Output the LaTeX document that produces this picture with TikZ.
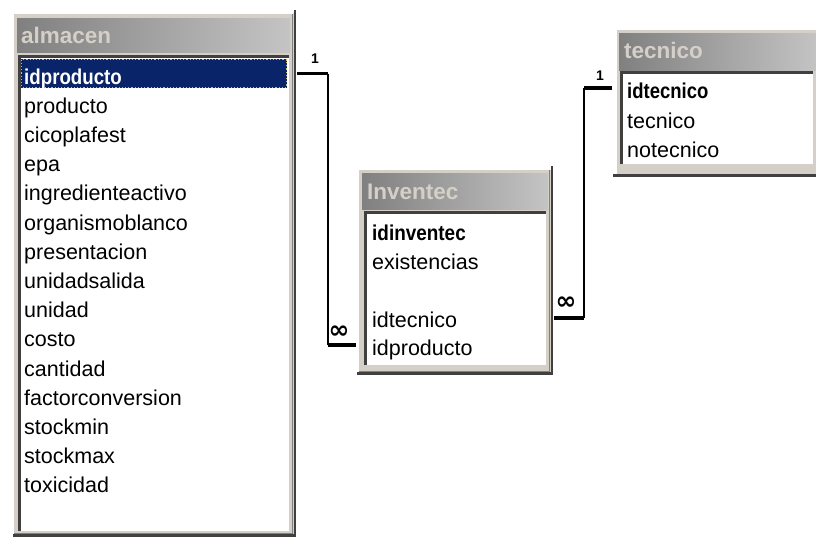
\documentclass[tikz,border=0pt]{standalone}
\usepackage{fontspec}
\setmainfont{Liberation Sans}
\newfontfamily\dvsans{DejaVu Sans}
\usepackage{graphicx}
\definecolor{winface}{HTML}{D4D0C8}
\definecolor{windark}{HTML}{404040}
\definecolor{winshadow}{HTML}{808080}
\definecolor{titleL}{HTML}{808080}
\definecolor{titleR}{HTML}{C4C4C4}
\definecolor{selnavy}{HTML}{0A246A}
\definecolor{focusdot}{HTML}{C8B870}
\tikzset{
  rowtext/.style={anchor=base west, inner sep=0pt, text=black, font=\fontsize{21.5}{24}\selectfont},
  keytext/.style={anchor=base west, inner sep=0pt, text=black, font=\fontsize{21.5}{24}\selectfont\bfseries},
  seltext/.style={anchor=base west, inner sep=0pt, text=white, font=\fontsize{21.5}{24}\selectfont\bfseries},
  titletext/.style={anchor=base west, inner sep=0pt, text=winface, font=\fontsize{22.5}{24}\selectfont\bfseries},
  winframe/.style={fill=winface},
  titlebar/.style={left color=titleL, right color=titleR, draw=none},
  listarea/.style={fill=white},
  darkedge/.style={draw=windark, line width=2.5pt},
  shadowedge/.style={draw=winshadow, line width=1pt},
  lightedge/.style={draw=white, line width=1.5pt},
  thickstub/.style={line width=3.5pt, black},
  thinlink/.style={line width=1.8pt, black},
  cardone/.style={inner sep=0pt, font=\fontsize{14}{16}\selectfont\bfseries},
  cardmany/.style={inner sep=0pt, font=\dvsans\bfseries\fontsize{25}{27}\selectfont},
}
\begin{document}
\begin{tikzpicture}[x=1pt, y=-1pt]
\useasboundingbox (0,0) rectangle (816,539);
\fill[white] (0,0) rectangle (816,539);
\begin{scope}
\clip (0,0) rectangle (816,539);
% ---------- almacen ----------
\fill[winframe] (13,13) rectangle (296,536);
\draw[lightedge] (13,535) -- (13,13) -- (293,13);
\draw[shadowedge] (292,14) -- (292,533) -- (14,533);
\draw[darkedge] (295,10) -- (295,536);
\draw[darkedge] (13,535.5) -- (296,535.5);
\shade[titlebar] (17,18) rectangle (290,52);
\node[titletext] (almacen) at (21,43) {almacen};
\fill[listarea] (19,56) rectangle (289,531);
\draw[darkedge] (19.5,531) -- (19.5,56.5) -- (289,56.5);
\fill[selnavy] (21,59) rectangle (287,88);
\draw[focusdot, line width=1.2pt, dotted] (21.6,59.6) rectangle (286.4,87.4);
\node[seltext] (a-idproducto) at (24,84) {\scalebox{0.87}[1]{idproducto}};
\foreach \n [count=\i] in {producto,cicoplafest,epa,ingredienteactivo,organismoblanco,presentacion,unidadsalida,unidad,costo,cantidad,factorconversion,stockmin,stockmax,toxicidad}
  \node[rowtext] (a-\n) at (24,{84+29.2*\i}) {\n};
% ---------- Inventec ----------
\fill[winframe] (358,169) rectangle (553,374);
\draw[lightedge] (358,373) -- (358,169) -- (551,169);
\draw[shadowedge] (549,170) -- (549,371) -- (359,371);
\draw[darkedge] (552,166) -- (552,375);
\draw[darkedge] (357,373.5) -- (553,373.5);
\shade[titlebar] (362,173) rectangle (548,209);
\node[titletext] (inventec) at (367,199) {Inventec};
\fill[listarea] (365,212) rectangle (546,365);
\draw[darkedge] (365.5,365) -- (365.5,212.5) -- (546,212.5);
\node[keytext] (i-idinventec) at (372,240) {\scalebox{0.88}[1]{idinventec}};
\node[rowtext] (i-existencias) at (372,269) {existencias};
\node[rowtext] (i-idtecnico) at (372,327) {idtecnico};
\node[rowtext] (i-idproducto) at (372,355) {idproducto};
% ---------- tecnico ----------
\fill[winframe] (616,29) rectangle (822,176);
\draw[lightedge] (616,175) -- (616,29) -- (822,29);
\draw[darkedge] (613,175.5) -- (822,175.5);
\shade[titlebar] (619,33) rectangle (818,70);
\node[titletext] (tecnico) at (624,58) {tecnico};
\fill[listarea] (621,72) rectangle (813,164);
\draw[darkedge] (621.5,164) -- (621.5,72.5) -- (813,72.5);
\node[keytext] (t-idtecnico) at (627,98) {\scalebox{0.86}[1]{idtecnico}};
\node[rowtext] (t-tecnico) at (627,128) {tecnico};
\node[rowtext] (t-notecnico) at (627,157) {notecnico};
\end{scope}
% ---------- relationship almacen -> Inventec ----------
\coordinate (r1a) at (297,73.5);
\coordinate (r1b) at (328,73.5);
\coordinate (r1c) at (328,345);
\coordinate (r1d) at (356,345);
\draw[thinlink] (r1b) -- (r1c);
\draw[thickstub] (r1a) -- (r1b);
\draw[thickstub] (r1c) -- (r1d);
\node[cardone] (r1one) at (315,59) {1};
\node[cardmany] (r1many) at (339,332) {∞};
% ---------- relationship tecnico -> Inventec ----------
\coordinate (r2a) at (612,88);
\coordinate (r2b) at (584,88);
\coordinate (r2c) at (584,318);
\coordinate (r2d) at (554,318);
\draw[thinlink] (r2b) -- (r2c);
\draw[thickstub] (r2a) -- (r2b);
\draw[thickstub] (r2c) -- (r2d);
\node[cardone] (r2one) at (600,76) {1};
\node[cardmany] (r2many) at (566,303) {∞};
\end{tikzpicture}
\end{document}
